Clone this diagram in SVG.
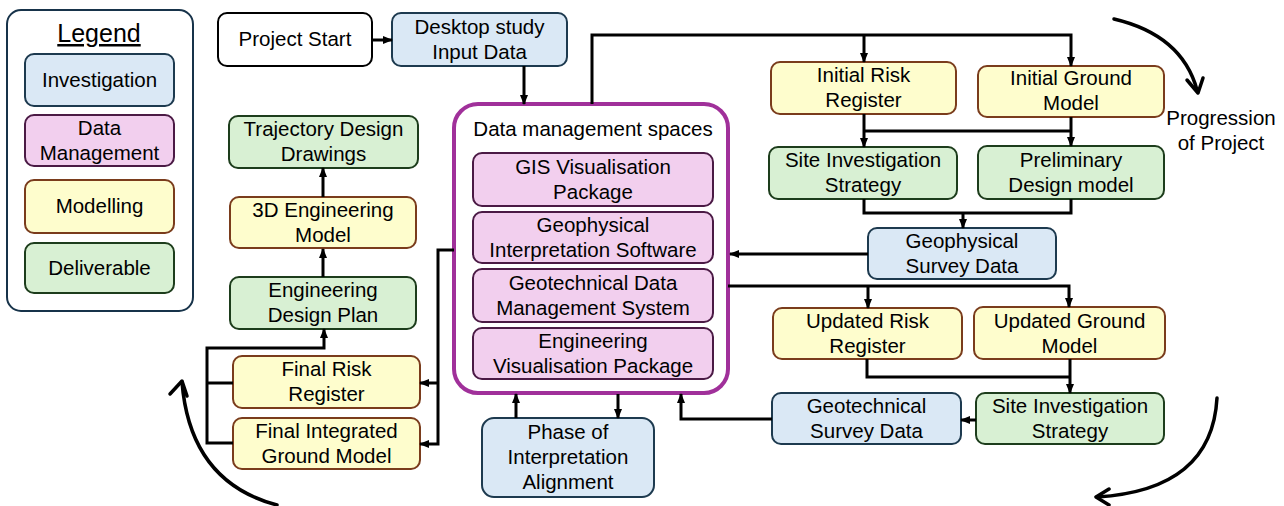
<svg xmlns="http://www.w3.org/2000/svg" width="1284" height="506" viewBox="0 0 1284 506">
<style>
text{font-family:"Liberation Sans",Arial,sans-serif;font-size:20.5px;fill:#000;text-anchor:middle}
.inv{fill:#dae8f5;stroke:#1d3a4f;stroke-width:2}
.dm{fill:#f2cfee;stroke:#4b1a45;stroke-width:2}
.mod{fill:#fefdcd;stroke:#7a3c1c;stroke-width:2}
.del{fill:#d8f0d3;stroke:#1d3d1c;stroke-width:2}
.plain{fill:#fff;stroke:#000;stroke-width:2}
.conn path{fill:none;stroke:#000;stroke-width:3}
.curve{fill:none;stroke:#000;stroke-width:3.5;stroke-linecap:round;stroke-linejoin:round}
</style>
<defs>
<marker id="ah" markerWidth="10" markerHeight="10" refX="9" refY="5" orient="auto" markerUnits="userSpaceOnUse"><path d="M0,1 L10,5 L0,9 z" fill="#000"/></marker>
</defs>
<rect width="1284" height="506" fill="#fff"/>

<g id="legend">
<rect x="7" y="10" width="186" height="301" rx="14" fill="#fff" stroke="#17334a" stroke-width="2"/>
<text x="99" y="42" style="font-size:25px;text-decoration:underline">Legend</text>
<rect class="inv" x="25" y="54" width="149" height="52" rx="9"/>
<text x="99.5" y="87">Investigation</text>
<rect class="dm" x="25" y="115" width="149" height="51" rx="9"/>
<text x="99.5" y="135">Data</text><text x="99.5" y="160">Management</text>
<rect class="mod" x="25" y="180" width="149" height="53" rx="9"/>
<text x="99.5" y="213">Modelling</text>
<rect class="del" x="25" y="243" width="149" height="50" rx="9"/>
<text x="99.5" y="275">Deliverable</text>
</g>

<g id="project-start"><rect class="plain" x="218" y="13" width="154" height="53" rx="9"/><text x="295" y="46">Project Start</text></g>
<g id="desktop-study"><rect class="inv" x="392" y="13" width="175" height="53" rx="9"/><text x="479.5" y="34">Desktop study</text><text x="479.5" y="59">Input Data</text></g>

<g id="data-management">
<rect x="454" y="104" width="274" height="289" rx="24" fill="#fff" stroke="#a0309a" stroke-width="4"/>
<text x="593" y="136">Data management spaces</text>
<rect class="dm" x="473" y="153" width="240" height="53" rx="9"/><text x="593" y="174">GIS Visualisation</text><text x="593" y="199">Package</text>
<rect class="dm" x="473" y="212" width="240" height="51" rx="9"/><text x="593" y="232">Geophysical</text><text x="593" y="257">Interpretation Software</text>
<rect class="dm" x="473" y="269" width="240" height="53" rx="9"/><text x="593" y="290">Geotechnical Data</text><text x="593" y="315">Management System</text>
<rect class="dm" x="473" y="328" width="240" height="51" rx="9"/><text x="593" y="348">Engineering</text><text x="593" y="373">Visualisation Package</text>
</g>

<g id="initial-risk"><rect class="mod" x="771" y="62" width="185" height="52" rx="9"/><text x="863.5" y="82">Initial Risk</text><text x="863.5" y="107">Register</text></g>
<g id="initial-ground"><rect class="mod" x="978" y="66" width="186" height="51" rx="9"/><text x="1071" y="85">Initial Ground</text><text x="1071" y="110">Model</text></g>
<g id="site-inv-1"><rect class="del" x="769" y="147" width="188" height="52" rx="9"/><text x="863" y="167">Site Investigation</text><text x="863" y="192">Strategy</text></g>
<g id="prelim-design"><rect class="del" x="978" y="146" width="186" height="53" rx="9"/><text x="1071" y="167">Preliminary</text><text x="1071" y="192">Design model</text></g>
<g id="geophys-survey"><rect class="inv" x="868" y="228" width="188" height="51" rx="9"/><text x="962" y="248">Geophysical</text><text x="962" y="273">Survey Data</text></g>
<g id="updated-risk"><rect class="mod" x="773" y="308" width="189" height="51" rx="9"/><text x="867.5" y="328">Updated Risk</text><text x="867.5" y="353">Register</text></g>
<g id="updated-ground"><rect class="mod" x="974" y="307" width="191" height="52" rx="9"/><text x="1069.5" y="328">Updated Ground</text><text x="1069.5" y="353">Model</text></g>
<g id="site-inv-2"><rect class="del" x="976" y="393" width="188" height="51" rx="9"/><text x="1070" y="413">Site Investigation</text><text x="1070" y="438">Strategy</text></g>
<g id="geotech-survey"><rect class="inv" x="772" y="393" width="189" height="51" rx="9"/><text x="866.5" y="413">Geotechnical</text><text x="866.5" y="438">Survey Data</text></g>
<g id="phase-alignment"><rect class="inv" x="482" y="418" width="172" height="79" rx="12"/><text x="568" y="439">Phase of</text><text x="568" y="464">Interpretation</text><text x="568" y="489">Alignment</text></g>
<g id="final-risk"><rect class="mod" x="233" y="356" width="187" height="52" rx="9"/><text x="326.5" y="376">Final Risk</text><text x="326.5" y="401">Register</text></g>
<g id="final-ground"><rect class="mod" x="233" y="418" width="187" height="51" rx="9"/><text x="326.5" y="438">Final Integrated</text><text x="326.5" y="463">Ground Model</text></g>
<g id="eng-design-plan"><rect class="del" x="230" y="277" width="186" height="52" rx="9"/><text x="323" y="297">Engineering</text><text x="323" y="322">Design Plan</text></g>
<g id="eng-3d-model"><rect class="mod" x="230" y="197" width="186" height="51" rx="9"/><text x="323" y="217">3D Engineering</text><text x="323" y="242">Model</text></g>
<g id="trajectory"><rect class="del" x="229" y="116" width="189" height="52" rx="9"/><text x="323.5" y="136">Trajectory Design</text><text x="323.5" y="161">Drawings</text></g>

<g id="connectors" class="conn">
<path d="M372,40 H392" marker-end="url(#ah)"/>
<path d="M524,66 V104" marker-end="url(#ah)"/>
<path d="M592,104 V35 H1071 V66" marker-end="url(#ah)"/>
<path d="M864,35 V62" marker-end="url(#ah)"/>
<path d="M864,114 V147" marker-end="url(#ah)"/>
<path d="M1071,117 V146" marker-end="url(#ah)"/>
<path d="M864,131 H1071"/>
<path d="M864,199 V213 H1071 V199"/>
<path d="M963,213 V228" marker-end="url(#ah)"/>
<path d="M868,254 H730" marker-end="url(#ah)"/>
<path d="M728,286 H1069 V307" marker-end="url(#ah)"/>
<path d="M868,286 V308" marker-end="url(#ah)"/>
<path d="M867,359 V377 H1070"/>
<path d="M1070,359 V393" marker-end="url(#ah)"/>
<path d="M976,420 H961" marker-end="url(#ah)"/>
<path d="M772,419 H681 V394" marker-end="url(#ah)"/>
<path d="M516,418 V394" marker-end="url(#ah)"/>
<path d="M618,394 V418" marker-end="url(#ah)"/>
<path d="M454,250 H438 V444 H420" marker-end="url(#ah)"/>
<path d="M438,383 H420" marker-end="url(#ah)"/>
<path d="M233,383 H207"/>
<path d="M233,443 H207 V348 H324 V329" marker-end="url(#ah)"/>
<path d="M323,277 V249" marker-end="url(#ah)"/>
<path d="M323,197 V168" marker-end="url(#ah)"/>
</g>

<g id="progression">
<path class="curve" d="M1114,19 Q1182,35 1197,90"/>
<path class="curve" d="M1187,80 L1198,93 L1203,78"/>
<text x="1221" y="125">Progression</text>
<text x="1221" y="150">of Project</text>
<path class="curve" d="M1217,398 Q1212,490 1097,497"/>
<path class="curve" d="M1109,489 L1096,497 L1109,505"/>
<path class="curve" d="M277,505 Q190,482 182,382"/>
<path class="curve" d="M170,394 L182,381 L187,396"/>
</g>
</svg>
